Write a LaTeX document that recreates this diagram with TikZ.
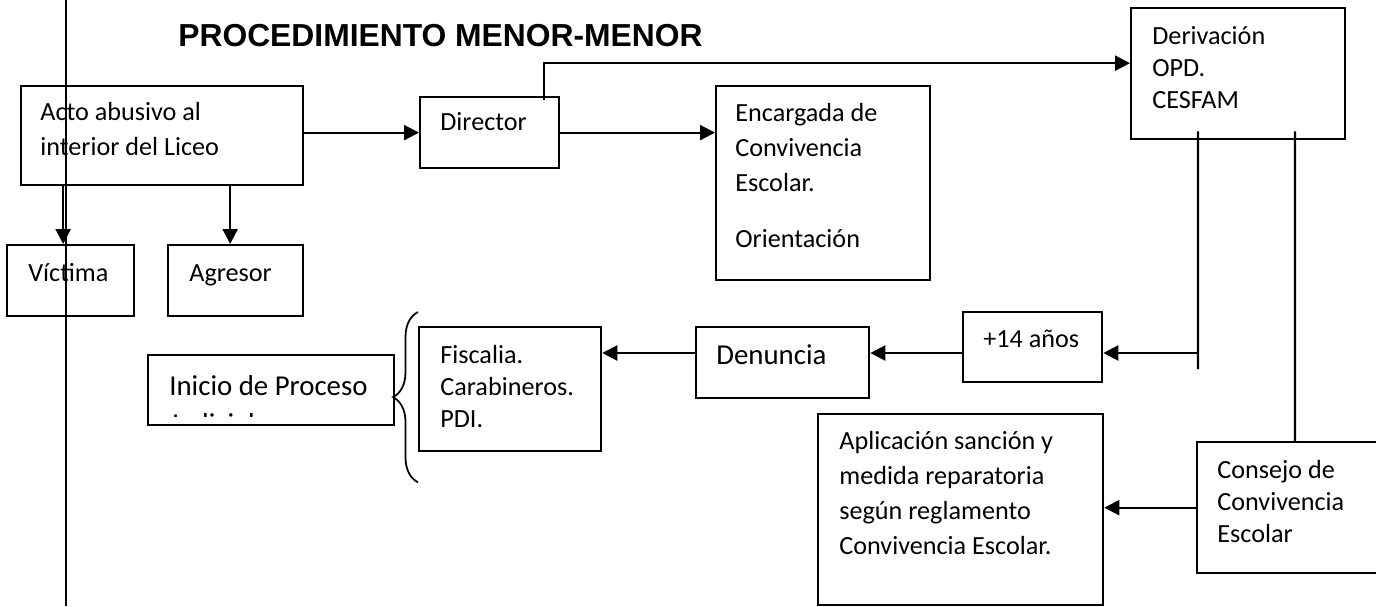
\documentclass[tikz,border=0pt]{standalone}
\usepackage{fontspec}
\setmainfont{Carlito}
\newfontfamily\titlefont{Liberation Sans}
\usepackage{tikz}
\usetikzlibrary{calc,positioning,arrows.meta,decorations.pathreplacing}

\begin{document}
\begin{tikzpicture}[caja/.style={draw, line width=1.3pt, anchor=north west, inner sep=0pt},
    texto/.style={anchor=base west, inner sep=0pt, align=left, font=\fontsize{14.9}{19.9}\selectfont},
    textoc/.style={texto, font=\fontsize{14.9}{18.3}\selectfont},
    textog/.style={texto, font=\fontsize{16.4}{21.5}\selectfont},
    flecha/.style={line width=1.3pt, -{Triangle[length=0.3cm, width=0.3cm]}},
    linea/.style={line width=1.2pt}]
    \useasboundingbox (0,0) rectangle (27.52,-12.12);

    \node[anchor=base west, inner sep=0pt, font=\titlefont\bfseries\fontsize{18.1}{20}\selectfont] (titulo) at (3.56,-0.92) {PROCEDIMIENTO MENOR-MENOR};

    % cajas
    \node[caja, minimum width=5.64cm, minimum height=1.98cm] (acto) at (0.40,-1.70) {};
    \node[caja, minimum width=2.78cm, minimum height=1.42cm] (director) at (8.38,-1.92) {};
    \node[caja, minimum width=2.54cm, minimum height=1.42cm] (victima) at (0.12,-4.88) {};
    \node[caja, minimum width=2.70cm, minimum height=1.42cm] (agresor) at (3.34,-4.88) {};
    \node[caja, minimum width=4.28cm, minimum height=3.88cm] (encargada) at (14.30,-1.70) {};
    \node[caja, minimum width=4.28cm, minimum height=2.62cm] (derivacion) at (22.60,-0.14) {};
    \node[caja, minimum width=3.64cm, minimum height=2.48cm] (fiscalia) at (8.36,-6.52) {};
    \node[caja, minimum width=4.92cm, minimum height=1.40cm] (inicio) at (2.94,-7.08) {};
    \node[caja, minimum width=3.46cm, minimum height=1.42cm] (denuncia) at (13.90,-6.52) {};
    \node[caja, minimum width=2.78cm, minimum height=1.40cm] (catorce) at (19.24,-6.22) {};
    \node[caja, minimum width=5.70cm, minimum height=3.82cm] (aplicacion) at (16.34,-8.26) {};
    \node[caja, minimum width=3.72cm, minimum height=2.62cm] (consejo) at (23.92,-8.82) {};

    % textos (base = ultima linea)
    \node[texto] (acto-t) at ([shift={(0.40,-1.40)}]acto.north west) {Acto abusivo al\\interior del Liceo};
    \node[texto] (director-t) at ([shift={(0.42,-0.68)}]director.north west) {Director};
    \node[texto] (victima-t) at ([shift={(0.44,-0.74)}]victima.north west) {Víctima};
    \node[texto] (agresor-t) at ([shift={(0.44,-0.74)}]agresor.north west) {Agresor};
    \node[texto] (encargada-t) at ([shift={(0.40,-3.24)}]encargada.north west) {Encargada de\\Convivencia\\Escolar.\\[0.42cm]Orientación};
    \node[textoc] (derivacion-t) at ([shift={(0.44,-2.03)}]derivacion.north west) {Derivación\\OPD.\\CESFAM};
    \node[textoc] (fiscalia-t) at ([shift={(0.44,-2.03)}]fiscalia.north west) {Fiscalia.\\Carabineros.\\PDI.};
    \node[textog] (denuncia-t) at ([shift={(0.42,-0.76)}]denuncia.north west) {Denuncia};
    \node[texto] (catorce-t) at ([shift={(0.42,-0.72)}]catorce.north west) {+14 años};
    \node[texto] (aplicacion-t) at ([shift={(0.44,-2.82)}]aplicacion.north west) {Aplicación sanción y\\medida reparatoria\\según reglamento\\Convivencia Escolar.};
    \node[textoc] (consejo-t) at ([shift={(0.42,-2.03)}]consejo.north west) {Consejo de\\Convivencia\\Escolar};
    \begin{scope}
        \clip (inicio.north west) rectangle ([yshift=0.19cm]inicio.south east);
        \node[textog] (inicio-t) at ([shift={(0.44,-1.58)}]inicio.north west) {Inicio de Proceso\\Judicial};
    \end{scope}

    % conectores
    \coordinate (nivel) at (0,-7.06);
    \coordinate (codo) at (23.96,-7.38);
    \draw[flecha] (acto.east |- director.west) -- (director.west);
    \draw[flecha] (director.east) -- (director.east -| encargada.west);
    \draw[flecha] ([shift={(-0.32,-0.08)}]director.north east) |- ([yshift=0.21cm]derivacion.west);
    \draw[flecha] ([xshift=-0.15cm]victima.north |- acto.south) -- ([xshift=-0.15cm]victima.north);
    \draw[flecha] ([xshift=-0.11cm]agresor.north |- acto.south) -- ([xshift=-0.11cm]agresor.north);
    \draw[linea] ([shift={(1.36,0.18)}]derivacion.south west) -- (codo);
    \draw[linea] ([shift={(3.30,0.18)}]derivacion.south west) -- ([xshift=3.30cm]derivacion.south west |- consejo.north);
    \draw[flecha] (codo |- nivel) -- (catorce.east |- nivel);
    \draw[flecha] (catorce.west |- nivel) -- (denuncia.east |- nivel);
    \draw[flecha] (denuncia.west |- nivel) -- (fiscalia.east |- nivel);
    \draw[flecha] (consejo.west) -- (consejo.west -| aplicacion.east);
    \draw[line width=1pt, decorate, decoration={brace, amplitude=0.5cm}] ([yshift=-0.60cm]fiscalia.south west) -- ([yshift=0.28cm]fiscalia.north west);

    \draw[line width=0.6pt] (1.32,0) -- (1.32,-12.12);
\end{tikzpicture}
\end{document}
